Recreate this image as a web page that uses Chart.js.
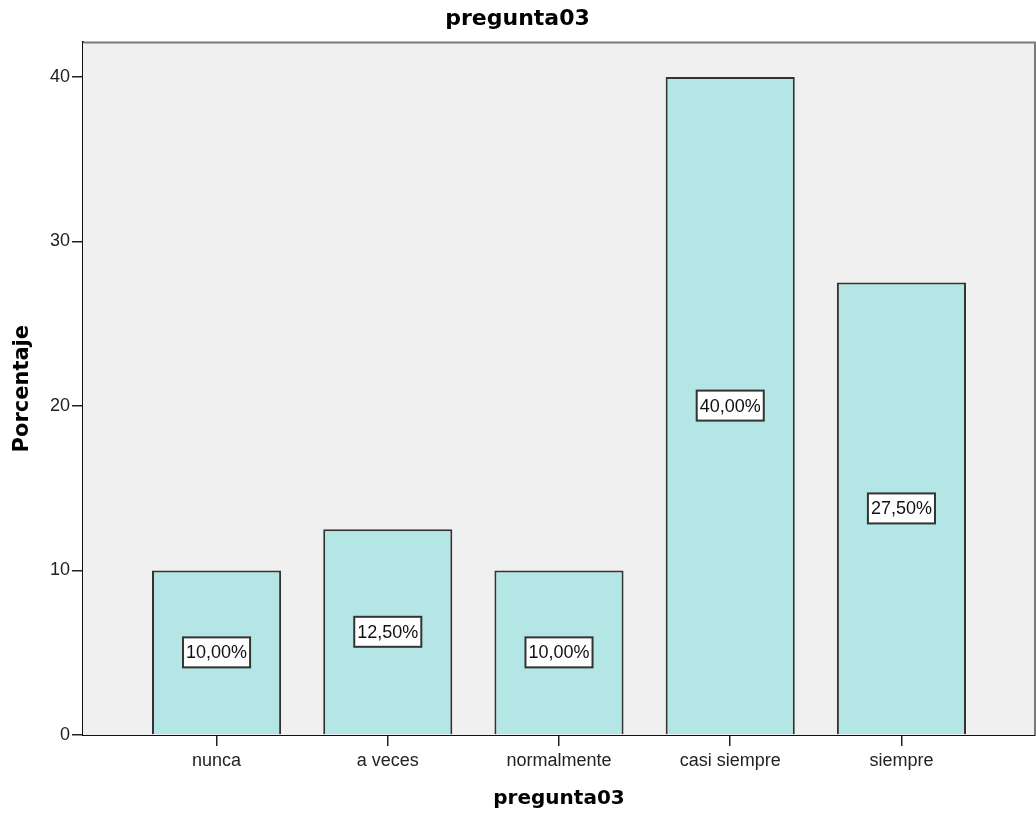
<!DOCTYPE html>
<html>
<head>
<meta charset="utf-8">
<script src="https://cdn.jsdelivr.net/npm/chart.js@4"></script>
<style>
  html, body { margin: 0; padding: 0; background: #fff; }
  #wrap { width: 1036px; height: 814px; }
</style>
</head>
<body>
<div id="wrap"><canvas id="grafico"></canvas></div>
<script>
const categorias = ['nunca', 'a veces', 'normalmente', 'casi siempre', 'siempre'];
const porcentajes = [10, 12.5, 10, 40, 27.5];
const ticksY = [0, 10, 20, 30, 40];

// fondo gris del area de trazado, con borde
const fondoGris = {
  id: 'fondoGris',
  beforeDatasetsDraw(chart) {
    const { ctx, chartArea: a } = chart;
    ctx.save();
    ctx.fillStyle = '#f0f0f0';
    ctx.fillRect(a.left, a.top, a.right - a.left, a.bottom - a.top);
    ctx.strokeStyle = '#7a7a7a';
    ctx.lineWidth = 2;
    ctx.beginPath();
    ctx.moveTo(a.left, a.top);
    ctx.lineTo(a.right, a.top);
    ctx.lineTo(a.right, a.bottom);
    ctx.stroke();
    ctx.restore();
  }
};

// etiquetas con el porcentaje en medio de cada barra
const etiquetas = {
  id: 'etiquetas',
  afterDatasetsDraw(chart) {
    const { ctx } = chart;
    const meta = chart.getDatasetMeta(0);
    ctx.save();
    ctx.font = '18px "Liberation Sans", Arial, sans-serif';
    ctx.textAlign = 'center';
    ctx.textBaseline = 'middle';
    meta.data.forEach((bar, i) => {
      const txt = porcentajes[i].toFixed(2).replace('.', ',') + '%';
      const w = ctx.measureText(txt).width + 6;
      const h = 30;
      const cy = (bar.y + bar.base) / 2;
      ctx.fillStyle = '#fff';
      ctx.fillRect(bar.x - w / 2, cy - h / 2, w, h);
      ctx.strokeStyle = '#333';
      ctx.lineWidth = 2;
      ctx.strokeRect(bar.x - w / 2, cy - h / 2, w, h);
      ctx.fillStyle = '#111';
      ctx.fillText(txt, bar.x, cy + 1);
    });
    ctx.restore();
  }
};

const ctx = document.getElementById('grafico').getContext('2d');
const grafico = new Chart(ctx, {
  type: 'bar',
  data: {
    datasets: [{
      data: porcentajes.map((v, i) => ({ x: i, y: v })),
      backgroundColor: '#b4e6e6',
      borderColor: '#333',
      borderWidth: 2,
      barPercentage: 0.754,
      categoryPercentage: 1
    }]
  },
  options: {
    responsive: true,
    maintainAspectRatio: false,
    animation: false,
    layout: { padding: { left: 0, right: 1, top: 0, bottom: 0 } },
    plugins: {
      legend: { display: false },
      tooltip: { enabled: false },
      title: {
        display: true,
        text: 'pregunta03',
        color: '#000',
        font: { family: '"DejaVu Sans"', size: 22, weight: 'bold' },
        padding: { top: 6, bottom: 10 }
      }
    },
    scales: {
      x: {
        type: 'linear',
        min: -0.78,
        max: 4.78,
        offset: false,
        afterBuildTicks: (s) => { s.ticks = categorias.map((_, i) => ({ value: i })); },
        afterFit: (s) => { s.height = 79; },
        ticks: {
          callback: (v) => categorias[v],
          color: '#222',
          font: { family: '"Liberation Sans"', size: 18 },
          padding: 4,
          autoSkip: false,
          maxRotation: 0
        },
        grid: { display: true, offset: false, drawOnChartArea: false, tickLength: 11, color: '#222', lineWidth: 1.5 },
        border: { color: '#111', width: 2 },
        title: {
          display: true,
          text: 'pregunta03',
          color: '#000',
          font: { family: '"DejaVu Sans"', size: 20, weight: 'bold' },
          padding: { top: 6, bottom: 3 }
        }
      },
      y: {
        min: 0,
        max: 42.1,
        afterBuildTicks: (s) => { s.ticks = ticksY.map(v => ({ value: v })); },
        afterFit: (s) => { s.width = 83; },
        ticks: {
          color: '#222',
          font: { family: '"Liberation Sans"', size: 18 },
          padding: 2
        },
        grid: { display: true, drawOnChartArea: false, tickLength: 11, color: '#222', lineWidth: 1.5 },
        border: { color: '#111', width: 2 },
        title: {
          display: true,
          text: 'Porcentaje',
          color: '#000',
          font: { family: '"DejaVu Sans"', size: 21, weight: 'bold' },
          padding: { top: 10 }
        }
      }
    }
  },
  plugins: [fondoGris, etiquetas]
});
</script>
</body>
</html>
